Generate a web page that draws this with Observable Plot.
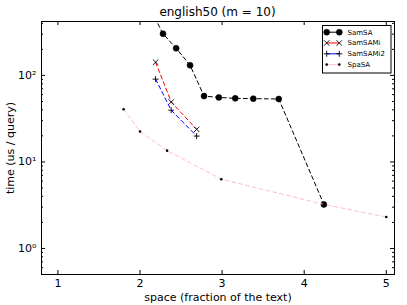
<!DOCTYPE html>
<html>
<head>
<meta charset="utf-8">
<script src="https://cdn.jsdelivr.net/npm/d3@7"></script>
<script src="https://cdn.jsdelivr.net/npm/@observablehq/plot@0.6"></script>
<style>
  html, body { margin: 0; padding: 0; background: white; }
  #chart { width: 407px; height: 305px; }
</style>
</head>
<body>
<div id="chart"></div>
<script>
// ---- data ----
const seriesNames = ["SamSA", "SamSAMi", "SamSAMi2", "SpaSA"];
const samsaSpace = [2.10, 2.28, 2.44, 2.61, 2.78, 2.96, 3.16, 3.38, 3.69, 4.24];
const samsaTime  = [650, 303, 206, 131, 57.7, 55.7, 54.3, 53.9, 53.4, 3.23];
const samsamiSpace = [2.19, 2.38, 2.69];
const samsamiTime  = [142, 49.3, 23.8];
const samsami2Space = [2.19, 2.38, 2.69];
const samsami2Time  = [90.6, 39.6, 19.9];
const spasaSpace = [1.80, 2.00, 2.33, 2.99, 4.24, 5.00];
const spasaTime  = [40.6, 22.5, 13.5, 6.32, 3.23, 2.31];
const xTicks = [1, 2, 3, 4, 5];
const yMajorTicks = [1, 10, 100];
const yMinorTicks = [0.5, 0.6, 0.7, 0.8, 0.9, 2, 3, 4, 5, 6, 7, 8, 9, 20, 30, 40, 50, 60, 70, 80, 90, 200, 300, 400];
const titleText = "english50 (m = 10)";
const xLabel = "space (fraction of the text)";
const yLabel = "time (us / query)";

const toRows = (xs, ys) => xs.map((x, i) => ({x, y: ys[i]}));
const samsa = toRows(samsaSpace, samsaTime);
const samsami = toRows(samsamiSpace, samsamiTime);
const samsami2 = toRows(samsami2Space, samsami2Time);
const spasa = toRows(spasaSpace, spasaTime);

const W = 407, H = 305, mL = 41, mR = 13, mT = 21, mB = 31;
const plotW = W - mL - mR, plotH = H - mT - mB;
const sup = {"0": "\u2070", "1": "\u00b9", "2": "\u00b2", "3": "\u00b3"};
const dash = "4,3";

const style = {
  SamSA:    {stroke: "black",   symbol: "circle", r: 3,   fill: "black", mstroke: "black"},
  SamSAMi:  {stroke: "#ff0000", symbol: "times",  r: 2.6, fill: "none",  mstroke: "black"},
  SamSAMi2: {stroke: "#0000ff", symbol: "plus",   r: 2.1, fill: "none",  mstroke: "black"},
  SpaSA:    {stroke: "#ffc0cb", symbol: "circle", r: 1.3, fill: "black", mstroke: "none"}
};
const dataOf = {SamSA: samsa, SamSAMi: samsami, SamSAMi2: samsami2, SpaSA: spasa};

const lineMarks = [];
for (const name of seriesNames) {
  const s = style[name];
  lineMarks.push(Plot.line(dataOf[name], {x: "x", y: "y", stroke: s.stroke, strokeWidth: 1, strokeDasharray: dash, clip: true}));
  lineMarks.push(Plot.dot(dataOf[name], {x: "x", y: "y", symbol: s.symbol, r: s.r, fill: s.fill,
    stroke: s.mstroke, strokeWidth: s.symbol === "circle" ? 0.5 : 0.9, clip: true}));
}

const chart = Plot.plot({
  width: W, height: H,
  marginLeft: mL, marginRight: mR, marginTop: mT, marginBottom: mB,
  style: {fontFamily: "DejaVu Sans, sans-serif", fontSize: "11px", background: "white", color: "black"},
  x: {domain: [0.8, 5.1]},
  y: {type: "log", domain: [0.5, 420]},
  marks: [
    ...lineMarks,
    Plot.axisX({ticks: xTicks, tickSize: 0, tickPadding: 5, tickFormat: d => String(d),
      label: xLabel, labelAnchor: "center", labelArrow: "none", labelOffset: 26, fontSize: 11}),
    Plot.axisY({ticks: yMajorTicks, tickSize: 0, tickPadding: 5,
      tickFormat: d => "10" + sup[String(Math.round(Math.log10(d)))],
      label: yLabel, labelAnchor: "center", labelArrow: "none", labelOffset: 35, fontSize: 11}),
    // inward ticks
    Plot.tickX(xTicks, {x: d => d, insetTop: plotH - 4, stroke: "black"}),
    Plot.tickX(xTicks, {x: d => d, insetBottom: plotH - 4, stroke: "black"}),
    Plot.tickY(yMajorTicks, {y: d => d, insetRight: plotW - 4, stroke: "black"}),
    Plot.tickY(yMajorTicks, {y: d => d, insetLeft: plotW - 4, stroke: "black"}),
    Plot.tickY(yMinorTicks, {y: d => d, insetRight: plotW - 2, stroke: "black"}),
    Plot.tickY(yMinorTicks, {y: d => d, insetLeft: plotW - 2, stroke: "black"}),
    Plot.frame({stroke: "black", strokeWidth: 1})
  ]
});

const svg = d3.select(chart);
// title
svg.append("text").attr("x", mL + plotW / 2).attr("y", 16).attr("text-anchor", "middle")
  .attr("font-family", "DejaVu Sans, sans-serif").attr("font-size", 12).attr("fill", "black").text(titleText);

// legend
const lg = svg.append("g").attr("font-family", "DejaVu Sans, sans-serif").attr("font-size", 7)
  .attr("text-anchor", "start");
lg.append("rect").attr("x", 322.5).attr("y", 25.5).attr("width", 68.5).attr("height", 47.5)
  .attr("fill", "white").attr("stroke", "black").attr("stroke-width", 1);
const symMap = {circle: d3.symbolCircle, times: d3.symbolTimes, plus: d3.symbolPlus};
seriesNames.forEach((name, i) => {
  const s = style[name];
  const y = 32.2 + i * 10.8;
  lg.append("line").attr("x1", 326.7).attr("x2", 339.3).attr("y1", y).attr("y2", y)
    .attr("stroke", s.stroke).attr("stroke-width", 1);
  for (const mx of [326.7, 339.3]) {
    lg.append("path").attr("transform", `translate(${mx},${y})`)
      .attr("d", d3.symbol(symMap[s.symbol], Math.PI * s.r * s.r)())
      .attr("fill", s.fill).attr("stroke", s.mstroke)
      .attr("stroke-width", s.symbol === "circle" ? 0.5 : 0.9);
  }
  lg.append("text").attr("x", 347.5).attr("y", y).attr("dy", "0.35em")
    .attr("text-anchor", "start").attr("fill", "black").text(name);
});

document.getElementById("chart").appendChild(chart);
</script>
</body>
</html>
